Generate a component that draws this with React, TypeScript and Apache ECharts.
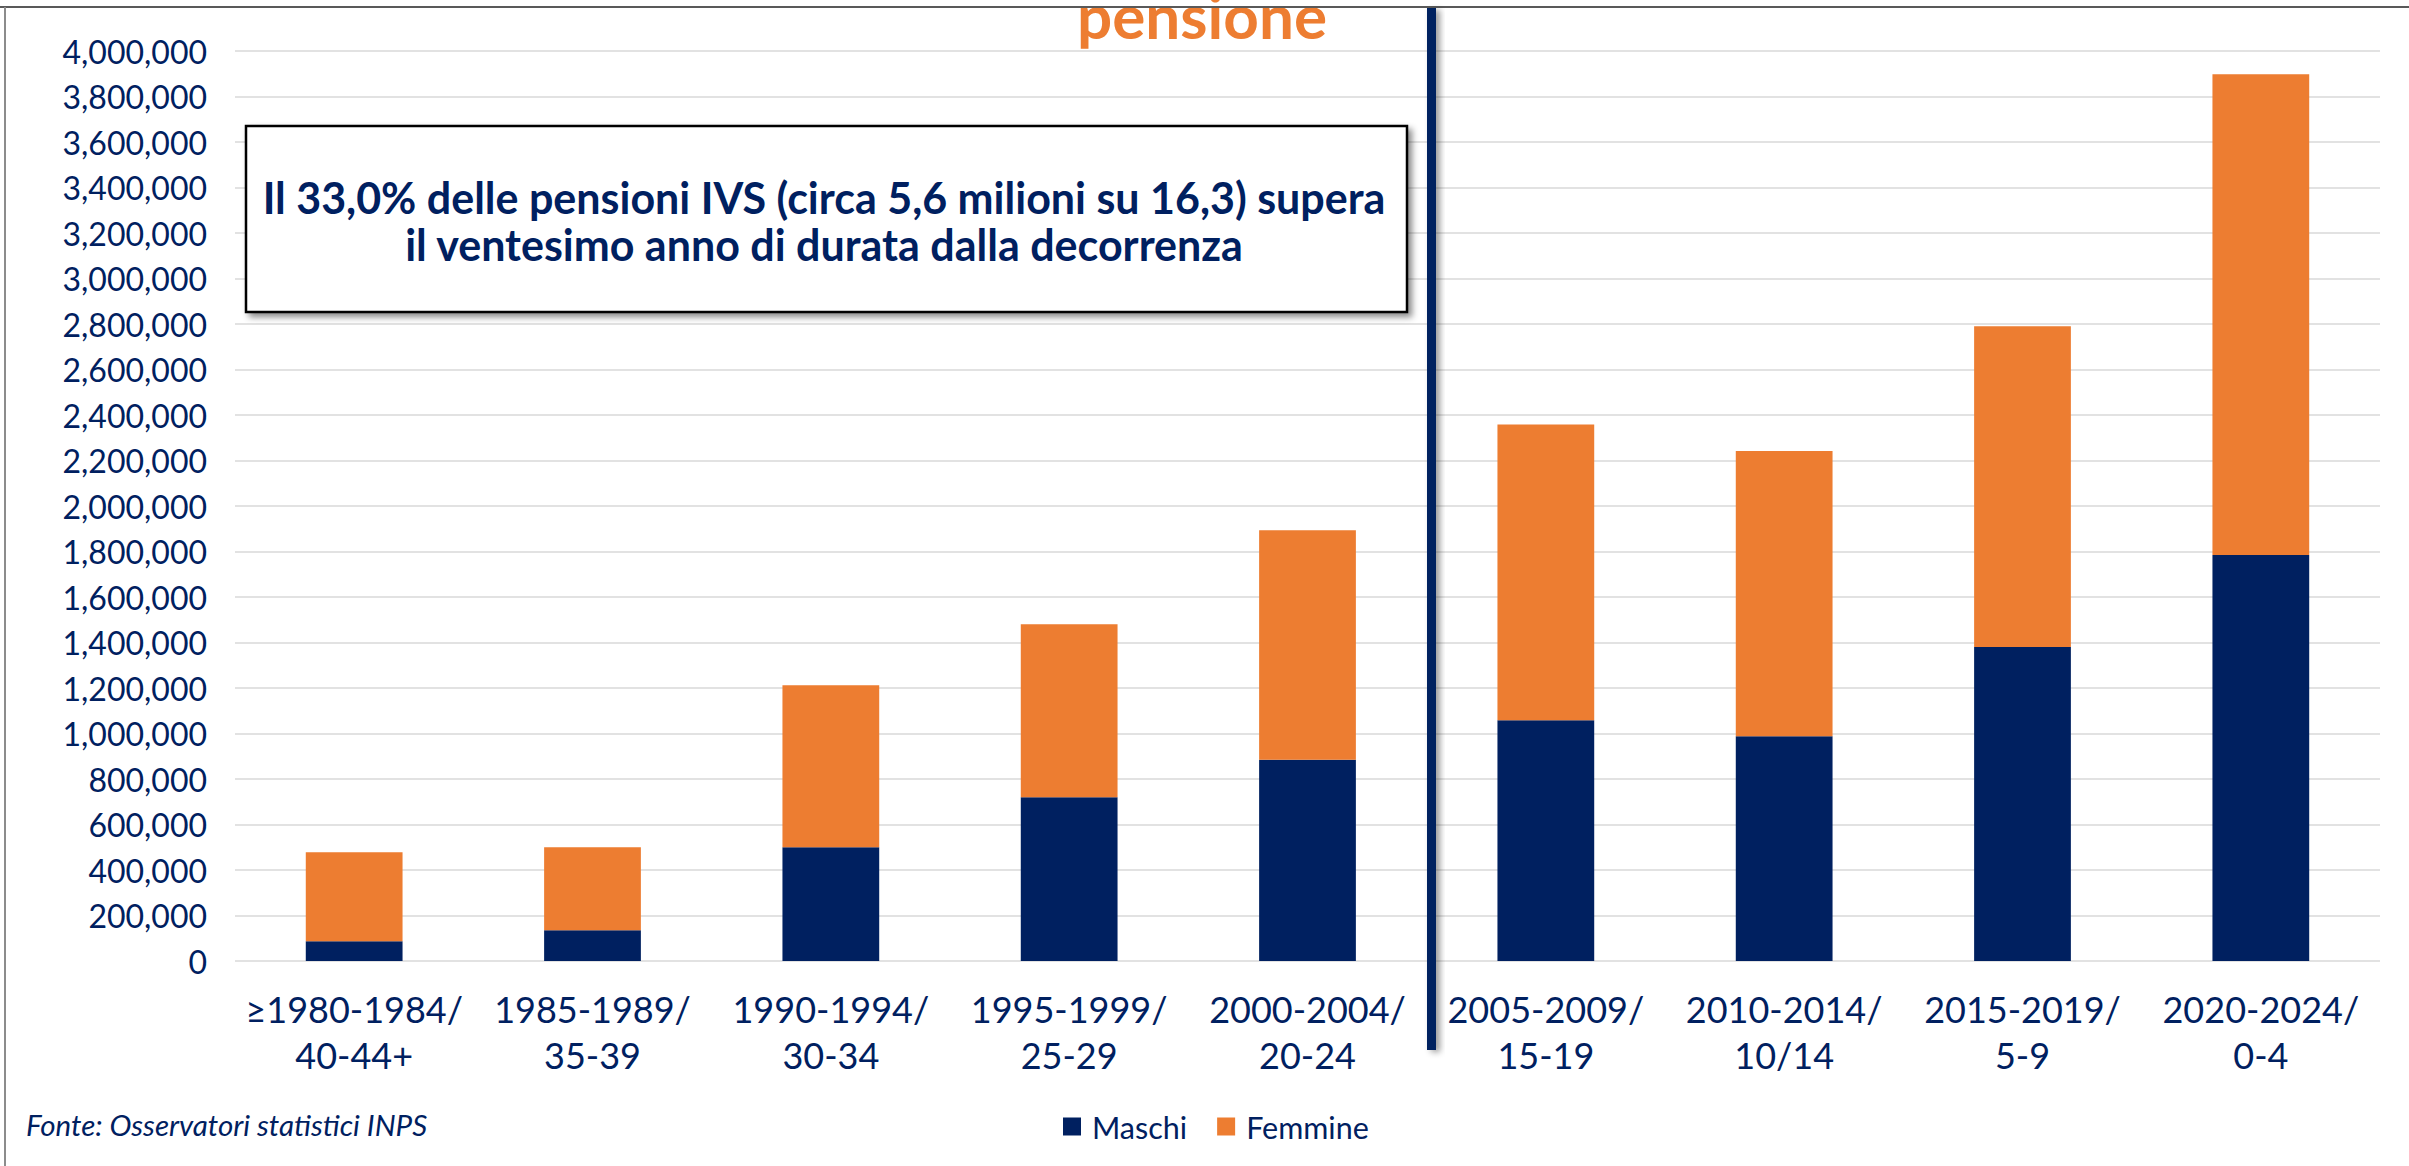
import React, { useEffect, useRef } from "react";
import * as echarts from "echarts";

const categories = [
  "≥1980-1984/\n40-44+",
  "1985-1989/\n35-39",
  "1990-1994/\n30-34",
  "1995-1999/\n25-29",
  "2000-2004/\n20-24",
  "2005-2009/\n15-19",
  "2010-2014/\n10/14",
  "2015-2019/\n5-9",
  "2020-2024/\n0-4",
];
const maschi = [87000, 135000, 500000, 720000, 885000, 1058000, 988000, 1380000, 1785000];
const femmine = [391000, 365000, 712000, 760000, 1008000, 1300000, 1254000, 1410000, 2113000];
const seriesNames = ["Maschi", "Femmine"];
const boxText = [
  "Il 33,0% delle pensioni IVS (circa 5,6 milioni su 16,3) supera",
  "il ventesimo anno di durata dalla decorrenza",
];
const sourceText = "Fonte: Osservatori statistici INPS";
const titleFragment = "pensione";

const NAVY = "#002060";
const ORANGE = "#ED7D31";
const FONT = "Lato";

export default function App() {
  const ref = useRef<HTMLDivElement>(null);
  useEffect(() => {
    if (!ref.current) return;
    const chart = echarts.init(ref.current, null, { renderer: "svg" });
    chart.setOption({
      animation: false,
      backgroundColor: "#ffffff",
      textStyle: { fontFamily: FONT },
      grid: { left: 235, right: 29, top: 51, bottom: 205, containLabel: false },
      legend: {
        data: seriesNames,
        left: 1058,
        top: 1106,
        itemWidth: 18,
        itemHeight: 18,
        itemGap: 30,
        icon: "rect",
        textStyle: { fontSize: 30.5, color: NAVY, fontFamily: FONT, padding: [0, 0, 0, 6] },
      },
      xAxis: {
        type: "category",
        data: categories,
        axisTick: { show: false },
        axisLine: { show: false },
        axisLabel: {
          interval: 0,
          fontSize: 36,
          lineHeight: 46,
          color: NAVY,
          fontFamily: FONT,
          margin: 25,
        },
      },
      yAxis: {
        type: "value",
        min: 0,
        max: 4000000,
        interval: 200000,
        axisLine: { show: false },
        axisTick: { show: false },
        splitLine: { lineStyle: { color: "#d9d9d9", width: 1.5 } },
        axisLabel: {
          fontSize: 32,
          color: NAVY,
          fontFamily: FONT,
          margin: 28,
          formatter: (v: number) => v.toLocaleString("en-US"),
        },
      },
      series: [
        {
          name: seriesNames[0],
          type: "bar",
          stack: "tot",
          data: maschi,
          barWidth: "40.6%",
          itemStyle: { color: NAVY },
        },
        {
          name: seriesNames[1],
          type: "bar",
          stack: "tot",
          data: femmine,
          barWidth: "40.6%",
          itemStyle: { color: ORANGE },
        },
      ],
      graphic: [
        {
          type: "text",
          z: 50,
          x: 1202,
          y: 15,
          style: {
            text: titleFragment,
            fill: ORANGE,
            font: `bold 62px ${FONT}`,
            align: "center",
            verticalAlign: "middle",
          },
        },
        {
          type: "line",
          z: 60,
          shape: { x1: 0, y1: 7, x2: 2409, y2: 7 },
          style: { stroke: "#595959", lineWidth: 2 },
        },
        {
          type: "line",
          z: 60,
          shape: { x1: 5, y1: 7, x2: 5, y2: 1166 },
          style: { stroke: "#8c8c8c", lineWidth: 2 },
        },
        {
          type: "rect",
          z: 70,
          shape: { x: 246, y: 126, width: 1161, height: 186 },
          style: {
            fill: "#ffffff",
            stroke: "#000000",
            lineWidth: 2.5,
            shadowColor: "rgba(0,0,0,0.45)",
            shadowBlur: 6,
            shadowOffsetX: 4,
            shadowOffsetY: 4,
          },
        },
        {
          type: "text",
          z: 71,
          x: 824,
          y: 221,
          style: {
            text: boxText.join("\n"),
            fill: NAVY,
            font: `bold 43px ${FONT}`,
            lineHeight: 47,
            align: "center",
            verticalAlign: "middle",
          },
        },
        {
          type: "rect",
          z: 80,
          shape: { x: 1427, y: 8, width: 9, height: 1042 },
          style: {
            fill: NAVY,
            shadowColor: "rgba(0,0,0,0.4)",
            shadowBlur: 6,
            shadowOffsetX: 4,
            shadowOffsetY: 2,
          },
        },
        {
          type: "text",
          z: 60,
          x: 26,
          y: 1124,
          style: {
            text: sourceText,
            fill: NAVY,
            font: `italic 29.5px ${FONT}`,
            align: "left",
            verticalAlign: "middle",
          },
        },
      ],
    });
    return () => chart.dispose();
  }, []);
  return (
    <div
      ref={ref}
      style={{ position: "absolute", left: 0, top: 0, width: 2409, height: 1166 }}
    />
  );
}
